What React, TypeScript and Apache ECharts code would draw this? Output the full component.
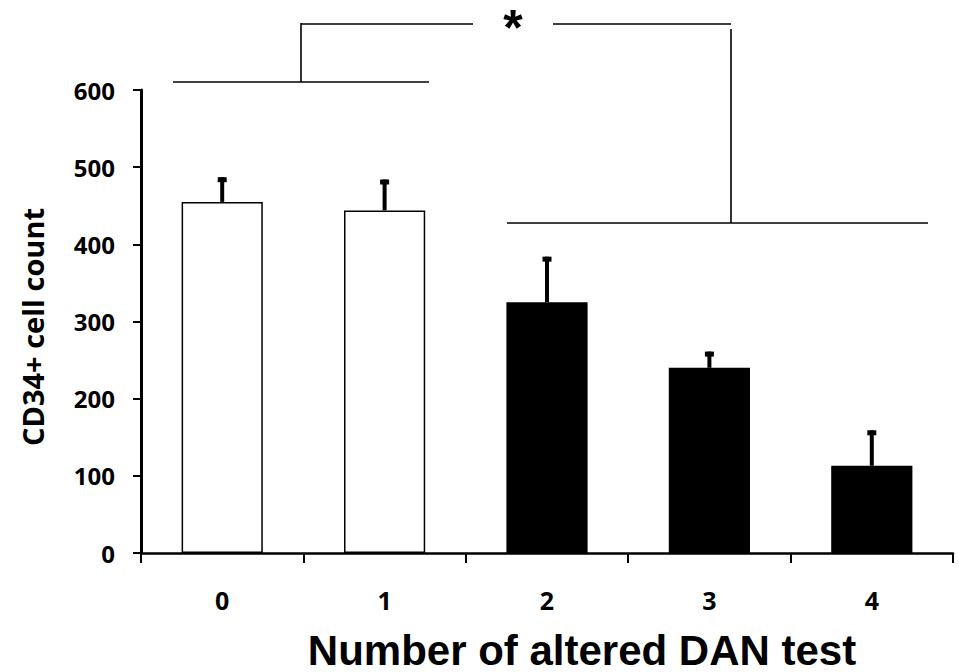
import React, { useEffect, useRef } from "react";
import * as echarts from "echarts";

const categories = ["0", "1", "2", "3", "4"];
const means = [455, 444, 325, 240, 113];
const errors = [32, 40, 59, 21, 46];
const barColors = ["#ffffff", "#ffffff", "#000000", "#000000", "#000000"];
const yTicks = { min: 0, max: 600, interval: 100 };
const xTitle = "Number of altered DAN test";
const yTitle = "CD34+ cell count";
const sigLabel = "*";

export default function App() {
  const ref = useRef<HTMLDivElement>(null);
  useEffect(() => {
    if (!ref.current) return;
    const chart = echarts.init(ref.current, null, { renderer: "svg" });
    const lineStyle = { stroke: "#000", lineWidth: 1.6 };
    const option: any = {
      animation: false,
      backgroundColor: "#fff",
      grid: { left: 141, right: 6, top: 90, bottom: 119, containLabel: false },
      xAxis: {
        type: "category",
        data: categories,
        boundaryGap: true,
        axisLine: { show: true, lineStyle: { color: "#000", width: 2.5 } },
        axisTick: { show: true, length: 10, lineStyle: { color: "#000", width: 2 } },
        axisLabel: {
          margin: 34,
          color: "#000",
          fontFamily: "Open Sans",
          fontWeight: "bold",
          fontSize: 25,
        },
        splitLine: { show: false },
      },
      yAxis: {
        type: "value",
        min: yTicks.min,
        max: yTicks.max,
        interval: yTicks.interval,
        axisLine: { show: true, lineStyle: { color: "#000", width: 3 } },
        axisTick: { show: true, length: 8, lineStyle: { color: "#000", width: 2 } },
        axisLabel: {
          margin: 26,
          color: "#000",
          fontFamily: "Open Sans",
          fontWeight: "bold",
          fontSize: 24,
        },
        splitLine: { show: false },
      },
      series: [
        {
          type: "bar",
          barWidth: "50%",
          data: means.map((v, i) => ({
            value: v,
            itemStyle: {
              color: barColors[i],
              borderColor: "#000",
              borderWidth: barColors[i] === "#ffffff" ? 1.5 : 0,
            },
          })),
          z: 2,
        },
        {
          type: "custom",
          z: 3,
          data: means.map((v, i) => [i, v + errors[i], v]),
          renderItem: (params: any, api: any) => {
            const top = api.coord([api.value(0), api.value(1)]);
            const base = api.coord([api.value(0), api.value(2)]);
            const capW = 9;
            const capH = 5;
            return {
              type: "group",
              children: [
                {
                  type: "rect",
                  shape: { x: top[0] - 2, y: top[1], width: 4, height: base[1] - top[1] },
                  style: { fill: "#000" },
                },
                {
                  type: "rect",
                  shape: { x: top[0] - capW / 2, y: top[1], width: capW, height: capH },
                  style: { fill: "#000" },
                },
              ],
            };
          },
        },
      ],
      graphic: [
        { type: "line", shape: { x1: 173, y1: 82, x2: 429, y2: 82 }, style: lineStyle },
        { type: "line", shape: { x1: 301, y1: 82, x2: 301, y2: 23 }, style: lineStyle },
        { type: "line", shape: { x1: 301, y1: 24, x2: 473, y2: 24 }, style: lineStyle },
        { type: "line", shape: { x1: 553, y1: 24, x2: 731, y2: 24 }, style: lineStyle },
        { type: "line", shape: { x1: 731, y1: 29, x2: 731, y2: 223 }, style: lineStyle },
        { type: "line", shape: { x1: 507, y1: 223, x2: 928, y2: 223 }, style: lineStyle },
        {
          type: "text",
          x: 513,
          y: 3,
          style: {
            text: sigLabel,
            fill: "#000",
            font: "bold 50px 'Liberation Sans', Arial, sans-serif",
            textAlign: "center",
            textVerticalAlign: "top",
          },
        },
        {
          type: "text",
          x: 582,
          y: 629,
          style: {
            text: xTitle,
            fill: "#000",
            font: "bold 42px 'Liberation Sans', Arial, sans-serif",
            textAlign: "center",
            textVerticalAlign: "top",
          },
        },
        {
          type: "text",
          x: 32,
          y: 327,
          rotation: Math.PI / 2,
          style: {
            text: yTitle,
            fill: "#000",
            font: "bold 29px 'Open Sans', sans-serif",
            textAlign: "center",
            textVerticalAlign: "middle",
          },
        },
      ],
    };
    chart.setOption(option);
    return () => chart.dispose();
  }, []);
  return (
    <div
      ref={ref}
      style={{ position: "fixed", left: 0, top: 0, width: 959, height: 672, background: "#fff" }}
    />
  );
}
